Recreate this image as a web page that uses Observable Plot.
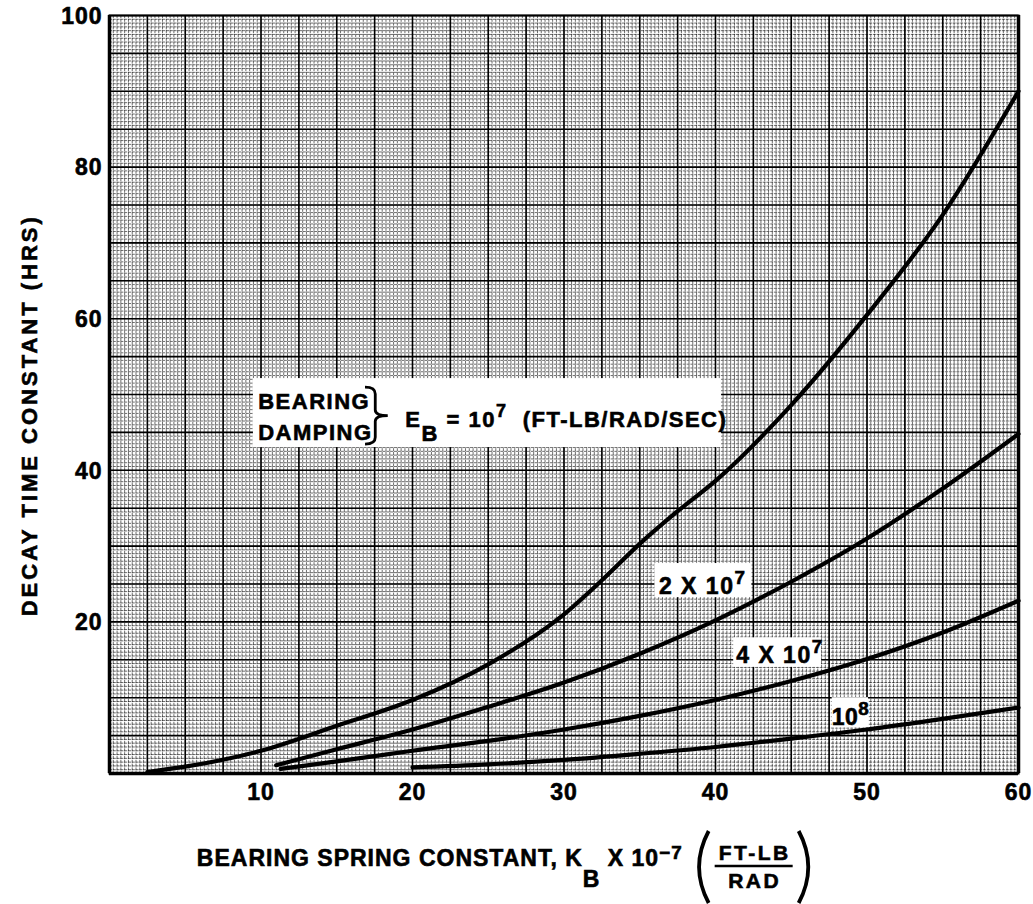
<!DOCTYPE html>
<html><head><meta charset="utf-8">
<script src="https://cdn.jsdelivr.net/npm/d3@7"></script>
<script src="https://cdn.jsdelivr.net/npm/@observablehq/plot@0.6"></script>
<style>
body{margin:0;background:#fff;}
#chart svg{display:block;}
</style></head><body><div id="chart"></div>
<script>
// ---- data ----
const xTicks = [10, 20, 30, 40, 50, 60];
const yTicks = [20, 40, 60, 80, 100];

const k_1e7 = [2.5, 5, 10, 15, 20, 25, 30, 32.5, 35, 37.5, 40, 45, 50, 55, 60];
const t_1e7 = [0.2, 0.9, 3.0, 6.3, 9.7, 14.4, 21.0, 25.5, 30.3, 34.6, 38.6, 48.6, 60.5, 73.7, 90.0];
const k_2e7 = [11, 15, 20, 25, 30, 35, 40, 45, 50, 55, 60];
const t_2e7 = [1.1, 3.2, 5.8, 8.8, 12.0, 15.8, 20.2, 25.3, 31.0, 37.6, 44.8];
const k_4e7 = [11.3, 15, 20, 25, 30, 35, 40, 45, 50, 55, 60];
const t_4e7 = [0.6, 1.6, 3.0, 4.3, 5.8, 7.6, 9.7, 12.2, 15.1, 18.6, 22.8];
const k_1e8 = [20, 25, 30, 35, 40, 45, 50, 55, 60];
const t_1e8 = [0.8, 1.2, 1.8, 2.6, 3.5, 4.6, 5.8, 7.2, 8.7];

// label boxes (data units)
const boxX1 = [9.5, 36.0, 41.2, 47.7];
const boxX2 = [40.4, 42.4, 47.0, 50.1];
const boxY1 = [43.0, 23.2, 14.0, 6.0];
const boxY2 = [52.1, 27.7, 17.9, 10.0];

// ---- build table ----
const series = [
  {id: "1e7", k: k_1e7, t: t_1e7},
  {id: "2e7", k: k_2e7, t: t_2e7},
  {id: "4e7", k: k_4e7, t: t_4e7},
  {id: "1e8", k: k_1e8, t: t_1e8}
];
const rows = series.flatMap(s => s.k.map((k, i) => ({series: s.id, k, t: s.t[i]})));
const boxes = boxX1.map((x1, i) => ({x1, x2: boxX2[i], y1: boxY1[i], y2: boxY2[i]}));

// graph-paper grid
const fineX = d3.range(0, 60.001, 0.25);
const heavyX = d3.range(0, 60.001, 2.5);
const fineY = d3.range(0, 100.001, 0.5);
const heavyY = d3.range(0, 100.001, 5);

const FONT = "'Liberation Sans', Arial, Helvetica, sans-serif";

const chart = Plot.plot({
  width: 1033,
  height: 904,
  marginLeft: 109,
  marginRight: 15,
  marginTop: 15,
  marginBottom: 131,
  style: {fontFamily: FONT, fontWeight: "bold", fontSize: "23px", color: "#000", background: "#fff"},
  x: {domain: [0, 60]},
  y: {domain: [0, 100]},
  marks: [
    Plot.ruleX(fineX, {stroke: "#000", strokeOpacity: 0.72, strokeWidth: 0.8, strokeDasharray: "3,0.8"}),
    Plot.ruleY(fineY, {stroke: "#000", strokeOpacity: 0.72, strokeWidth: 0.8, strokeDasharray: "3,0.8"}),
    Plot.ruleX(heavyX, {stroke: "#000", strokeWidth: 1.6}),
    Plot.ruleY(heavyY, {stroke: "#000", strokeWidth: 1.6}),
    Plot.rect(boxes, {x1: "x1", x2: "x2", y1: "y1", y2: "y2", fill: "#fff"}),
    Plot.line(rows, {x: "k", y: "t", z: "series", stroke: "#000", strokeWidth: 4.2, curve: "monotone-x"}),
    Plot.frame({stroke: "#000", strokeWidth: 2}),
    Plot.ruleX([0, 60], {stroke: "#000", strokeWidth: 3.5}),
    Plot.ruleY([0], {stroke: "#000", strokeWidth: 3.5}),
    Plot.axisX(xTicks, {tickSize: 0, tickPadding: 10, fontSize: 23, fontWeight: "bold", label: null}),
    Plot.axisY(yTicks, {tickSize: 0, tickPadding: 7, fontSize: 23, fontWeight: "bold", label: null, dy: 1})
  ]
});
document.getElementById("chart").appendChild(chart);

// ---- rich text annotations placed through the chart's scales ----
const sx = chart.scale("x"), sy = chart.scale("y");
const X = v => sx.apply(v), Y = v => sy.apply(v);
const svg = d3.select(chart);
const g = svg.append("g").attr("font-family", FONT).attr("font-weight", "bold").attr("fill", "#000");

function rich(x, y, parts, {size = 22, spacing = 1.5, anchor = "start", rotate = null, sub = 0.6, sup = 0.45} = {}) {
  const t = g.append("text").attr("x", x).attr("y", y)
    .attr("font-size", size).attr("letter-spacing", spacing).attr("text-anchor", anchor);
  if (rotate != null) t.attr("transform", `rotate(${rotate},${x},${y})`);
  let shift = 0;
  parts.forEach(p => {
    const part = typeof p === "string" ? {t: p} : p;
    const target = part.sub ? size * sub : part.sup ? -size * sup : 0;
    const ts = t.append("tspan").text(part.t).attr("dy", target - shift);
    if (part.sup) ts.attr("font-size", size * 0.82);
    shift = target;
  });
  return t;
}

// Bearing damping block
rich(X(9.85), Y(48.0), ["BEARING"]);
rich(X(9.85), Y(43.9), ["DAMPING"]);
(function brace() {
  const x0 = X(16.9), w = X(18.4) - X(16.9);
  const top = Y(50.9), bot = Y(43.4), mid = (top + bot) / 2, h = bot - top;
  const xm = x0 + w * 0.45;
  g.append("path").attr("fill", "none").attr("stroke", "#000").attr("stroke-width", 2.8)
    .attr("d", `M${x0},${top} Q${xm},${top} ${xm},${top + h * 0.12} L${xm},${mid - h * 0.1} Q${xm},${mid} ${x0 + w},${mid}` +
               ` Q${xm},${mid} ${xm},${mid + h * 0.1} L${xm},${bot - h * 0.12} Q${xm},${bot} ${x0},${bot}`);
})();
rich(X(19.56), Y(45.6), ["E", {t: "B", sub: true}, " = 10", {t: "7", sup: true}, "  (FT-LB/RAD/SEC)"], {sub: 0.6});

rich(X(36.3), Y(23.6), ["2 X 10", {t: "7", sup: true}], {size: 23});
rich(X(41.4), Y(14.5), ["4 X 10", {t: "7", sup: true}], {size: 23});
rich(X(47.7), Y(6.3), ["10", {t: "8", sup: true}], {size: 23, spacing: 0.5});

// Axis titles
rich(37, Y(47.2), ["DECAY TIME CONSTANT (HRS)"], {size: 22, spacing: 3, anchor: "middle", rotate: -90});

const xt = rich(X(5.8), 866, ["BEARING SPRING CONSTANT, K", {t: "B", sub: true}, " X 10", {t: "\u22127", sup: true}],
                {size: 23, spacing: 1, sub: 0.9, sup: 0.3});
const bb = xt.node().getBBox();
(function fraction() {
  const left = bb.x + bb.width + 14;
  const pTop = 831, pBot = 903, pw = 12;
  const paren = (x, dir) => g.append("path").attr("fill", "none").attr("stroke", "#000").attr("stroke-width", 3.8)
    .attr("d", `M${x + dir * pw},${pTop} Q${x - dir * pw * 0.6},${(pTop + pBot) / 2} ${x + dir * pw},${pBot}`);
  paren(left, 1);
  const cx = left + pw + 46;
  rich(cx, 860, ["FT-LB"], {size: 21, spacing: 2.5, anchor: "middle"});
  g.append("line").attr("x1", cx - 40).attr("x2", cx + 38).attr("y1", 866).attr("y2", 866)
    .attr("stroke", "#000").attr("stroke-width", 2.5);
  rich(cx, 888, ["RAD"], {size: 21, spacing: 2.5, anchor: "middle"});
  paren(cx + 44 + pw, -1);
})();

// tick label size and heavier lettering, like the printed original
svg.selectAll('[aria-label="x-axis tick label"] text, [aria-label="y-axis tick label"] text')
  .attr("font-size", 23).attr("letter-spacing", 1);
svg.selectAll("text").attr("stroke", "#000").attr("stroke-width", 0.6);
</script></body></html>
